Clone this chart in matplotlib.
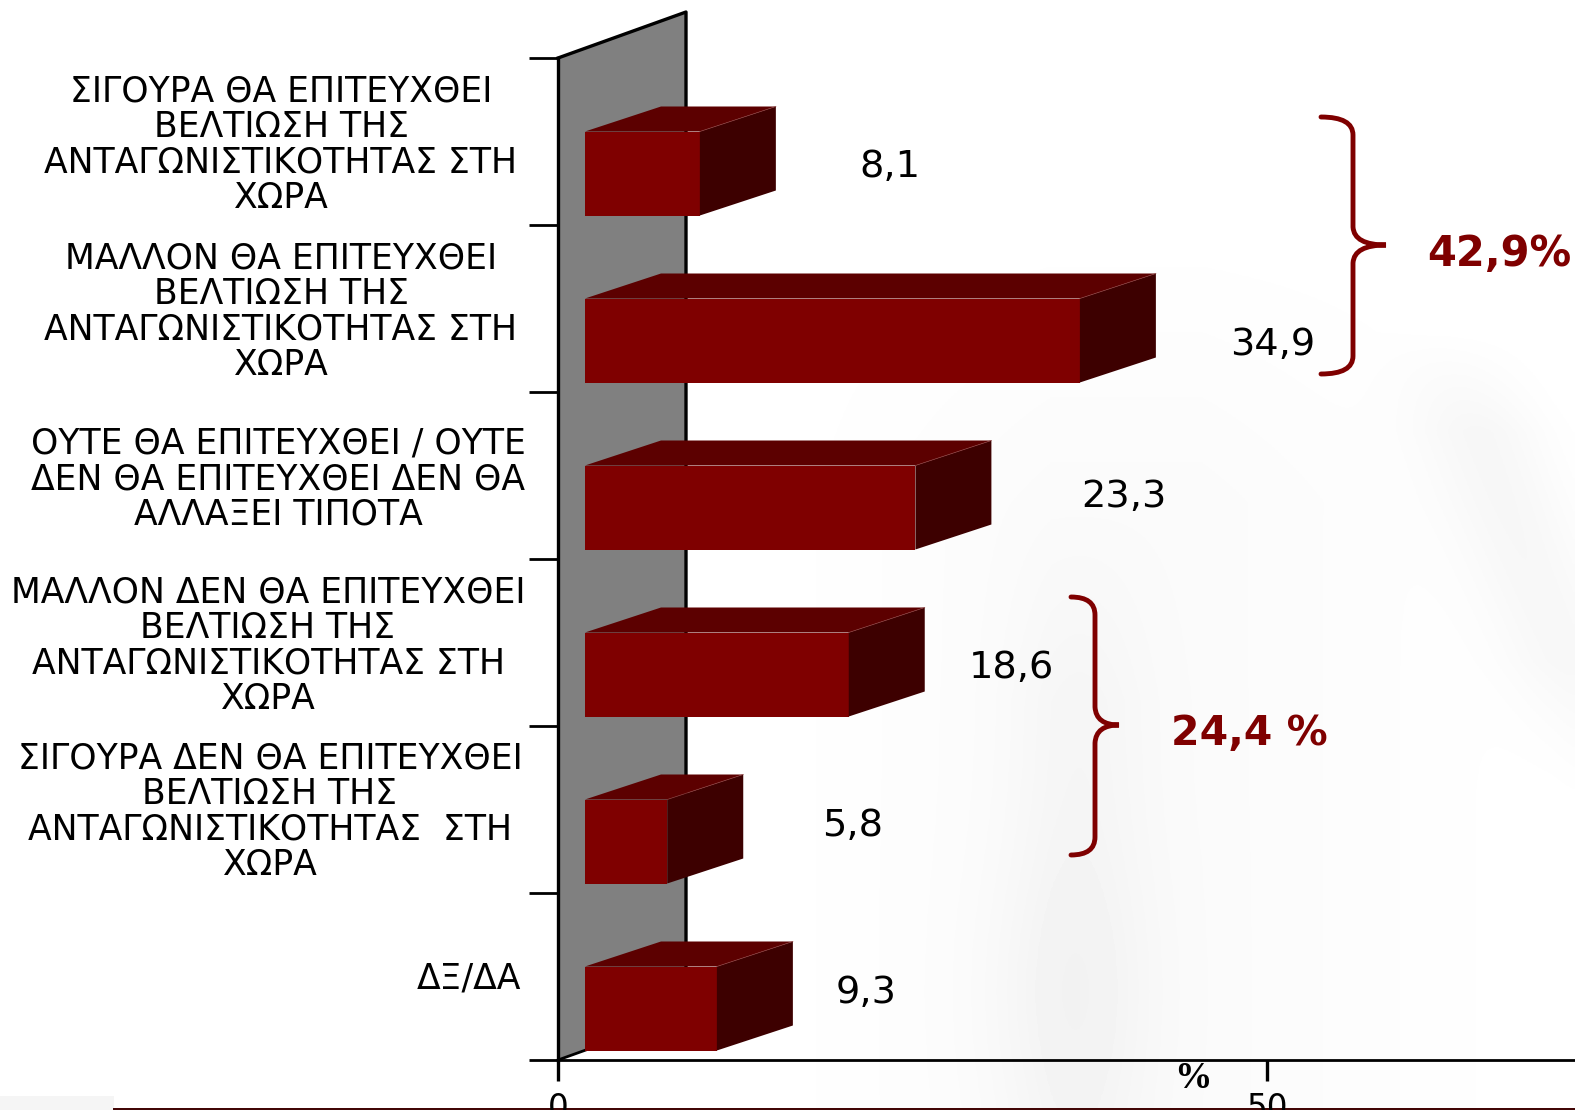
import numpy as np
import matplotlib
matplotlib.use("Agg")
import matplotlib.pyplot as plt
from matplotlib.patches import PathPatch, Rectangle
from matplotlib.path import Path

plt.rcParams['font.family'] = ['DejaVu Sans']

labels = [
    "ΣΙΓΟΥΡΑ ΘΑ ΕΠΙΤΕΥΧΘΕΙ\nΒΕΛΤΙΩΣΗ ΤΗΣ\nΑΝΤΑΓΩΝΙΣΤΙΚΟΤΗΤΑΣ ΣΤΗ\nΧΩΡΑ",
    "ΜΑΛΛΟΝ ΘΑ ΕΠΙΤΕΥΧΘΕΙ\nΒΕΛΤΙΩΣΗ ΤΗΣ\nΑΝΤΑΓΩΝΙΣΤΙΚΟΤΗΤΑΣ ΣΤΗ\nΧΩΡΑ",
    "ΟΥΤΕ ΘΑ ΕΠΙΤΕΥΧΘΕΙ / ΟΥΤΕ\nΔΕΝ ΘΑ ΕΠΙΤΕΥΧΘΕΙ ΔΕΝ ΘΑ\nΑΛΛΑΞΕΙ ΤΙΠΟΤΑ",
    "ΜΑΛΛΟΝ ΔΕΝ ΘΑ ΕΠΙΤΕΥΧΘΕΙ\nΒΕΛΤΙΩΣΗ ΤΗΣ\nΑΝΤΑΓΩΝΙΣΤΙΚΟΤΗΤΑΣ ΣΤΗ\nΧΩΡΑ",
    "ΣΙΓΟΥΡΑ ΔΕΝ ΘΑ ΕΠΙΤΕΥΧΘΕΙ\nΒΕΛΤΙΩΣΗ ΤΗΣ\nΑΝΤΑΓΩΝΙΣΤΙΚΟΤΗΤΑΣ  ΣΤΗ\nΧΩΡΑ",
    "ΔΞ/ΔΑ",
]
values = [8.1, 34.9, 23.3, 18.6, 5.8, 9.3]
value_text = ["8,1", "34,9", "23,3", "18,6", "5,8", "9,3"]
x_ticks = [0, 50]
group_text = ["42,9%", "24,4 %"]

W, H = 1575, 1110
DARK_RED = "#7f0000"
TOP_RED = "#5c0000"
SIDE_RED = "#3d0000"
WALL = "#808080"

# geometry of the fake 3d, in pixels of the final picture
X0_PX, Y0_PX, Y1_PX = 558, 1060, 58
PX_PER_UNIT = 14.18
ROW_PX = (Y0_PX - Y1_PX) / 6

fig = plt.figure(figsize=(W / 100, H / 100), dpi=100, facecolor="white")

# faint watermark behind the chart
bg = fig.add_axes([0, 0, 1, 1], zorder=0)
yy, xx = np.mgrid[0:H:3, 0:W:3]
base = np.clip((xx - 750) / 300.0, 0, 1) * np.clip((1550 - xx) / 350.0, 0, 1) * np.clip((yy - 200) / 300.0, 0, 1) * 0.018
band = np.exp(-((xx - 1078) / 70.0) ** 2) * np.clip((yy - 500) / 200.0, 0, 1) * 0.02
lower = np.exp(-((xx - 1065) / 90.0) ** 2 - ((yy - 990) / 140.0) ** 2) * 0.014
diag = np.exp(-((xx - 1475 - (yy - 420) * 0.38) / 65.0) ** 2) * np.clip((yy - 330) / 100.0, 0, 1) * np.clip((820 - yy) / 160.0, 0, 1) * 0.03
bg.imshow(1 - (base + band + lower + diag), cmap="gray", vmin=0, vmax=1, extent=(0, W, H, 0), aspect="auto")
bg.add_patch(Rectangle((0, 1096), 114, 14, color="#f5f5f5", lw=0))
bg.plot([114, W], [1109, 1109], color="#3d0000", lw=1.4)
bg.set_xlim(0, W)
bg.set_ylim(H, 0)
bg.axis("off")

ax = fig.add_axes([X0_PX / W, 1 - Y0_PX / H, (W - X0_PX) / W, (Y0_PX - Y1_PX) / H], zorder=1)
ax.patch.set_alpha(0)
ax.set_xlim(0, (W - X0_PX) / PX_PER_UNIT)
ax.set_ylim(6, 0)


def dx(px):
    return px / PX_PER_UNIT


def dy(px):
    return px / ROW_PX


# back wall
wall_x = [0, dx(128), dx(128), 0]
wall_y = [0, dy(-46), 6 - dy(46), 6]
ax.fill(wall_x, wall_y, color=WALL, lw=0, zorder=1, clip_on=False)
ax.plot([0, dx(128), dx(128)], [0, dy(-46), 6 - dy(46)], color="black", lw=2.4, zorder=2, clip_on=False)
ax.plot([0, dx(128)], [6, 6 - dy(46)], color="black", lw=2.0, zorder=2, clip_on=False)

# bars
left = dx(27)
bar_h = dy(84)
depth_x, depth_y = dx(76), dy(25)
ypos = np.arange(len(values)) + 1 - dy(9.5) - bar_h / 2
ax.barh(ypos, values, left=left, height=bar_h, color=DARK_RED, lw=0, zorder=5)
for y, v in zip(ypos, values):
    top, bot = y - bar_h / 2, y + bar_h / 2
    r = left + v
    ax.fill([left, r, r + depth_x, left + depth_x], [top, top, top - depth_y, top - depth_y],
            color=TOP_RED, lw=0, zorder=5)
    ax.fill([r, r + depth_x, r + depth_x, r], [top, top - depth_y, bot - depth_y, bot],
            color=SIDE_RED, lw=0, zorder=5)
    ax.plot([r, r + depth_x], [top, top - depth_y], color="#8a3a3a", lw=0.5, zorder=6)

# axes
for s in ["top", "right"]:
    ax.spines[s].set_visible(False)
ax.spines["left"].set_linewidth(2.4)
ax.spines["bottom"].set_linewidth(2.0)
ax.spines["left"].set_zorder(3)
ax.set_yticks(range(7))
ax.set_yticklabels([])
ax.set_xticks(x_ticks)
ax.set_xticklabels([str(t) for t in x_ticks], fontsize=23.5)
ax.tick_params(axis="y", length=21, width=2.0, direction="out")
ax.tick_params(axis="x", length=15, width=2.4, direction="out", pad=8)

# category labels, px positions of the block centres
label_x = [281, 281, 278, 268, 270, 469]
label_y = [145, 312, 479, 646, 812, 979]
for txt, lx, ly in zip(labels, label_x, label_y):
    bg.text(lx, ly, txt, ha="center", va="center", fontsize=24.9, linespacing=1.05, color="black", zorder=5)

# value labels
val_x = [890, 1273, 1124, 1011, 853, 866]
val_y = [167, 345, 497, 668, 826, 993]
for txt, vx, vy in zip(value_text, val_x, val_y):
    bg.text(vx, vy, txt, ha="center", va="center", fontsize=27.5, color="black", zorder=5)

bg.text(1193, 1079, "%", ha="center", va="center", fontsize=27, fontweight="bold",
        family="Liberation Serif", color="black", zorder=5)


def brace(x_end, x_spine, x_tip, y_top, y_mid, y_bot):
    r = 18
    verts = [(x_end, y_top), (x_spine, y_top), (x_spine, y_top + r),
             (x_spine, y_mid - r), (x_spine + 1, y_mid), (x_tip, y_mid),
             (x_spine + 1, y_mid), (x_spine, y_mid + r),
             (x_spine, y_bot - r), (x_spine, y_bot), (x_end, y_bot)]
    codes = [Path.MOVETO, Path.CURVE3, Path.CURVE3, Path.LINETO,
             Path.CURVE3, Path.CURVE3, Path.CURVE3, Path.CURVE3,
             Path.LINETO, Path.CURVE3, Path.CURVE3]
    bg.add_patch(PathPatch(Path(verts, codes), fc="none", ec=DARK_RED, lw=3.5, capstyle="round", zorder=5))


brace(1321, 1353, 1386, 117, 245, 374)
brace(1071, 1095, 1119, 597, 725, 855)
bg.text(1499, 254, group_text[0], ha="center", va="center", fontsize=30, fontweight="bold", color=DARK_RED, zorder=5)
bg.text(1249, 734, group_text[1], ha="center", va="center", fontsize=29.5, fontweight="bold", color=DARK_RED, zorder=5)

fig.savefig("out.png", dpi=100)
